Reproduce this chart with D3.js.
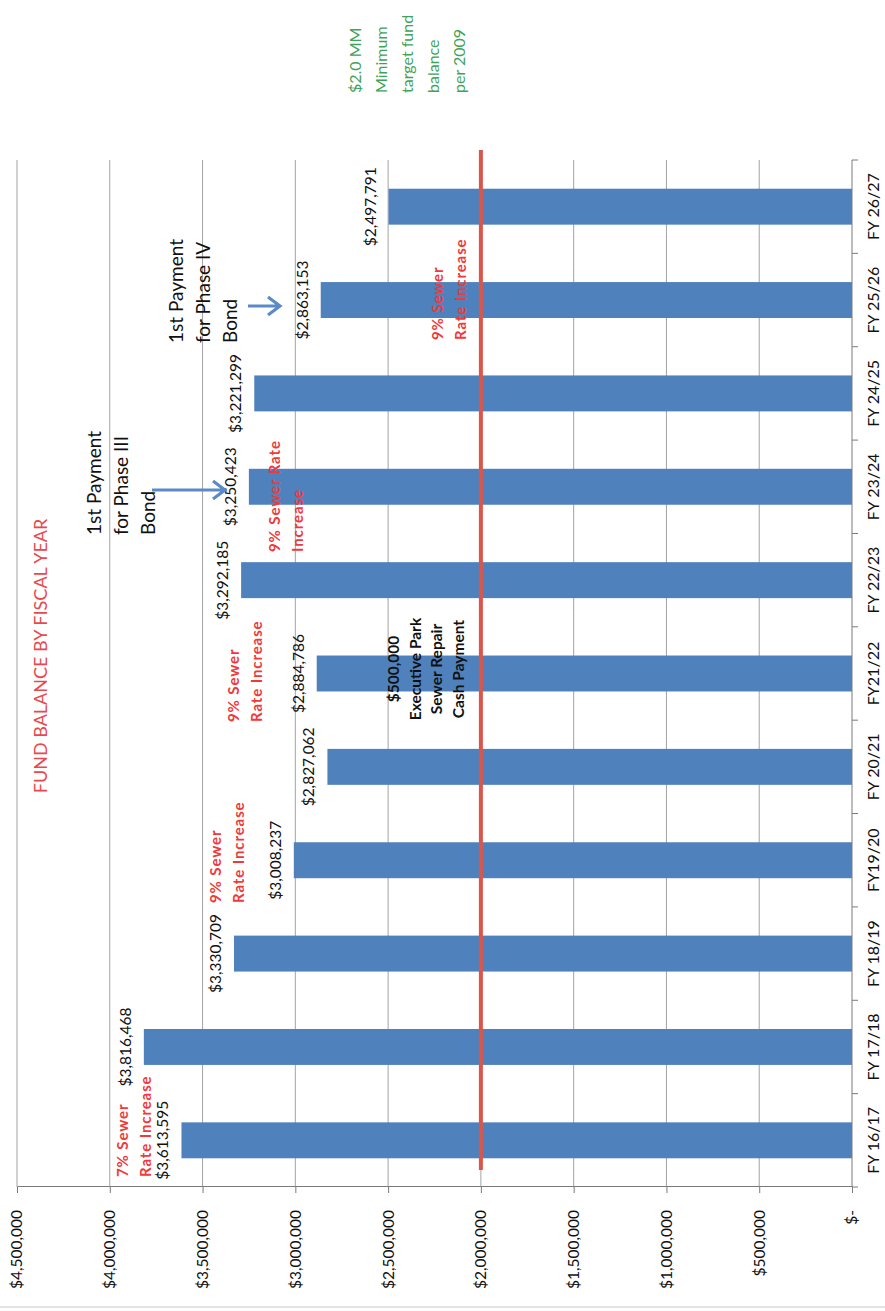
<!DOCTYPE html>
<html>
<head>
<meta charset="utf-8">
<script src="https://cdn.jsdelivr.net/npm/d3@7"></script>
<style>
  html, body { margin: 0; padding: 0; background: #ffffff; }
  svg { display: block; }
  text { font-family: Lato, "Open Sans", "DejaVu Sans", sans-serif; }
</style>
</head>
<body>
<script>
// ---------------- data ----------------
const categories = ["FY 16/17", "FY 17/18", "FY 18/19", "FY19/20", "FY 20/21", "FY21/22",
                    "FY 22/23", "FY 23/24", "FY 24/25", "FY 25/26", "FY 26/27"];
const balances = [3613595, 3816468, 3330709, 3008237, 2827062, 2884786,
                  3292185, 3250423, 3221299, 2863153, 2497791];
const valueTicks = [0, 500000, 1000000, 1500000, 2000000, 2500000, 3000000, 3500000, 4000000, 4500000];
const valueTickLabels = ["$-", "$500,000", "$1,000,000", "$1,500,000", "$2,000,000",
                         "$2,500,000", "$3,000,000", "$3,500,000", "$4,000,000", "$4,500,000"];
const targetBalance = 2000000;
const chartTitle = "FUND BALANCE BY FISCAL YEAR";
const rateNoteCategories = ["FY 16/17", "FY19/20", "FY21/22", "FY 23/24", "FY 25/26"];
const rateNoteLines = [["7% Sewer", "Rate Increase"], ["9% Sewer", "Rate Increase"],
                       ["9% Sewer", "Rate Increase"], ["9% Sewer Rate", "Increase"],
                       ["9% Sewer", "Rate Increase"]];
const cashNoteLines = ["$500,000", "Executive Park", "Sewer Repair", "Cash Payment"];
const phase3Lines = ["1st Payment", "for Phase III", "Bond"];
const phase4Lines = ["1st Payment", "for Phase IV", "Bond"];
const targetNoteLines = ["$2.0 MM", "Minimum", "target fund", "balance", "per 2009"];

// ---------------- drawing ----------------
const W = 885, H = 1311;
const svg = d3.select("body").append("svg").attr("width", W).attr("height", H);
svg.append("rect").attr("width", W).attr("height", H).attr("fill", "#ffffff");

// whole chart is drawn rotated -90deg (page shows it sideways)
const g = svg.append("g").attr("transform", `translate(0,${H}) rotate(-90)`);

const x = d3.scaleBand().domain(categories).range([124, 1151])
  .paddingInner(0.615).paddingOuter(0.3075);
const y = d3.scaleLinear().domain([0, 4500000]).range([852, 17]);
const [u0, u1] = x.range();

// gridlines
g.append("g").selectAll("line").data(valueTicks.filter(d => d > 0)).join("line")
  .attr("x1", u0).attr("x2", u1)
  .attr("y1", d => y(d)).attr("y2", d => y(d))
  .attr("stroke", "#8c8c8c").attr("stroke-width", 0.8);

// value axis
const yAxis = g.append("g").attr("transform", `translate(${u0},0)`)
  .call(d3.axisLeft(y).tickValues(valueTicks).tickFormat((d, i) => valueTickLabels[i])
    .tickSize(6).tickSizeOuter(0).tickPadding(17));
yAxis.select(".domain").attr("stroke", "#7a7a7a");
yAxis.selectAll(".tick line").attr("stroke", "#7a7a7a");
yAxis.selectAll("text").attr("font-size", 15.5).attr("fill", "#111")
  .style("font-family", "Lato, 'Open Sans', sans-serif");

// bars
g.append("g").selectAll("rect").data(categories).join("rect")
  .attr("x", d => x(d)).attr("width", x.bandwidth())
  .attr("y", (d, i) => y(balances[i]))
  .attr("height", (d, i) => y(0) - y(balances[i]))
  .attr("fill", "#4F81BD");

// category axis
const xAxis = g.append("g").attr("transform", `translate(0,${y(0)})`)
  .call(d3.axisBottom(x).tickSize(0).tickPadding(16));
xAxis.select(".domain").remove();
xAxis.selectAll("text").attr("font-size", 16).attr("fill", "#111")
  .style("font-family", "Lato, 'Open Sans', sans-serif");
g.append("line").attr("x1", u0).attr("x2", u1).attr("y1", y(0)).attr("y2", y(0))
  .attr("stroke", "#7a7a7a");
g.append("g").selectAll("line").data(d3.range(categories.length + 1)).join("line")
  .attr("x1", i => u0 + i * x.step()).attr("x2", i => u0 + i * x.step())
  .attr("y1", y(0)).attr("y2", y(0) + 6)
  .attr("stroke", "#7a7a7a");

// target line at $2.0M
g.append("line")
  .attr("x1", u0 + 17).attr("x2", u1 + 10)
  .attr("y1", y(targetBalance)).attr("y2", y(targetBalance))
  .attr("stroke", "#D9564C").attr("stroke-width", 4);

// value labels
const fmt = d3.format("$,");
g.append("g").selectAll("text").data(categories).join("text")
  .attr("x", d => x(d) + x.bandwidth() / 2)
  .attr("y", (d, i) => y(balances[i]) - 13)
  .attr("text-anchor", "middle")
  .attr("font-size", 15.5).attr("fill", "#111")
  .text((d, i) => fmt(balances[i]));

// title
g.append("text").attr("x", 655).attr("y", 47).attr("text-anchor", "middle")
  .attr("font-size", 18).attr("fill", "#E8494E").text(chartTitle);

// helper for multi-line text blocks
function block(lines, u, v0, dv, opts) {
  const t = g.append("g");
  lines.forEach((s, i) => {
    t.append("text").attr("x", u).attr("y", v0 + i * dv)
      .attr("text-anchor", opts.anchor || "start")
      .attr("font-size", opts.size).attr("font-weight", opts.weight || 400)
      .attr("letter-spacing", opts.ls || 0)
      .attr("fill", opts.color).text(s);
  });
}

// rate increase notes (layout in chart pixels)
const rateLayout = [
  { u: 134, v: 128 },
  { u: 408, v: 221 },
  { u: 589, v: 239 },
  { u: 759, v: 280 },
  { u: 971, v: 443 }
];
rateNoteLines.forEach((lines, i) => {
  block(lines, rateLayout[i].u, rateLayout[i].v, 23,
    { size: 15, weight: 700, ls: 0.9, color: "#F03A3A" });
});

// cash payment note
block(cashNoteLines, 642, 399, 21.5, { size: 15.5, weight: 700, color: "#111", anchor: "middle" });

// bond payment notes
block(phase3Lines, 776, 101, 27, { size: 19, color: "#111" });
block(phase4Lines, 968, 183, 27, { size: 19, color: "#111" });

// target note
block(targetNoteLines, 1218, 361, 26, { size: 16, color: "#3FA35A" });

// arrows
const arrowColor = "#5A8BC8";
function arrow(u, vFrom, vTo) {
  g.append("path")
    .attr("d", `M${u},${vFrom} L${u},${vTo} M${u + 9},${vTo - 12} L${u},${vTo} L${u - 9},${vTo - 12}`)
    .attr("fill", "none").attr("stroke", arrowColor).attr("stroke-width", 3.2)
    .attr("stroke-linejoin", "miter");
}
arrow(821, 152, 225);
arrow(1005, 248, 280);

// bottom border
svg.append("line").attr("x1", 0).attr("x2", W).attr("y1", 1307).attr("y2", 1307)
  .attr("stroke", "#c8c8c8").attr("stroke-width", 1);
</script>
</body>
</html>
